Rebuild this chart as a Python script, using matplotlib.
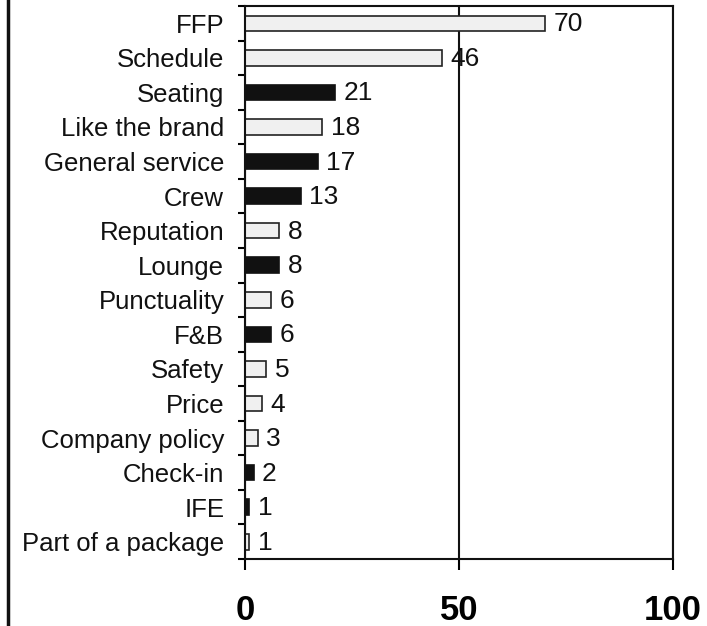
import matplotlib
matplotlib.use("Agg")
import matplotlib.pyplot as plt
from matplotlib.lines import Line2D

categories = ["FFP", "Schedule", "Seating", "Like the brand", "General service",
              "Crew", "Reputation", "Lounge", "Punctuality", "F&B", "Safety",
              "Price", "Company policy", "Check-in", "IFE", "Part of a package"]
values = [70, 46, 21, 18, 17, 13, 8, 8, 6, 6, 5, 4, 3, 2, 1, 1]
dark = [False, False, True, False, True, True, False, True, False, True,
        False, False, False, True, True, False]
x_ticks = [0, 50, 100]

plt.rcParams["font.family"] = ["Liberation Sans", "DejaVu Sans"]

fig = plt.figure(figsize=(7.07, 6.26), dpi=100)
ax = fig.add_axes([0.3465, 0.107, 0.6054, 0.8834])

y = list(range(len(categories)))
for yi, v, d in zip(y, values, dark):
    if d:
        ax.barh(yi, v, height=0.45, color="#111111", edgecolor="#111111", linewidth=1.2)
    else:
        ax.barh(yi, v, height=0.45, color="#f0f0f0", edgecolor="#222222", linewidth=1.2)
    ax.text(v + 2.0, yi + 0.03, str(v), va="center", ha="left", fontsize=19, color="#111111")

ax.set_ylim(len(categories) - 0.5, -0.5)
ax.set_xlim(0, 100)
ax.set_yticks([i + 0.5 for i in range(-1, len(categories))], minor=False)
ax.set_yticklabels([])
ax.set_yticks(y, minor=True)
ax.set_yticklabels(categories, minor=True, fontsize=18.5, color="#111111")
ax.tick_params(axis="y", which="major", direction="out", length=5, width=1.5)
ax.tick_params(axis="y", which="minor", length=0, pad=15)

ax.set_xticks(x_ticks)
ax.set_xticklabels([str(t) for t in x_ticks], fontsize=25, fontweight="bold")
ax.tick_params(axis="x", direction="out", length=8, width=1.5, pad=17)
ax.xaxis.grid(True, color="#111111", linewidth=1.5)
ax.set_axisbelow(True)
for s in ax.spines.values():
    s.set_linewidth(1.5)
    s.set_color("#111111")

# frame line down the left edge of the figure
fig.add_artist(Line2D([0.011, 0.011], [0, 1], transform=fig.transFigure,
                      color="#111111", linewidth=2.5))

fig.savefig("out.png", dpi=100)
